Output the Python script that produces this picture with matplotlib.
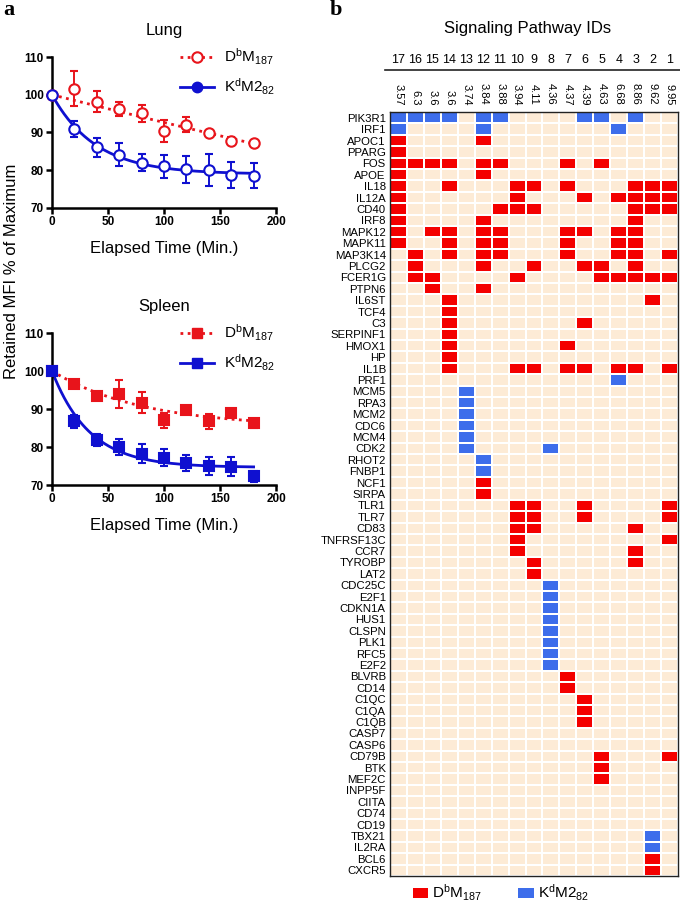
import numpy as np
import matplotlib
matplotlib.use("Agg")
import matplotlib.pyplot as plt
from matplotlib.colors import ListedColormap
from matplotlib.lines import Line2D
from matplotlib.patches import Patch
import matplotlib.transforms as mtransforms

plt.rcParams['font.family'] = ['Liberation Sans', 'DejaVu Sans']
plt.rcParams['mathtext.default'] = 'regular'

# ---- panel a data ----
time_min = [0, 20, 40, 60, 80, 100, 120, 140, 160, 180]

lung_db = [100, 101.6, 98.1, 96.2, 95.1, 90.4, 92.0, 89.8, 87.8, 87.1]
lung_db_err = [0, 4.7, 2.8, 1.8, 2.3, 3.0, 2.0, 0.5, 1.0, 0.5]
lung_kd = [100, 90.9, 86.1, 84.1, 82.0, 81.0, 80.3, 80.0, 78.7, 78.5]
lung_kd_err = [0, 2.2, 2.5, 3.0, 2.2, 3.1, 3.6, 4.2, 3.5, 3.3]

spleen_db = [100, 96.5, 93.4, 93.9, 91.7, 87.0, 89.8, 86.8, 89.0, 86.2]
spleen_db_err = [0, 0.8, 0.6, 3.7, 2.7, 2.0, 0.8, 2.0, 1.0, 1.3]
spleen_kd = [100, 86.8, 81.8, 80.0, 78.2, 77.2, 75.8, 75.0, 74.8, 72.3]
spleen_kd_err = [0, 1.7, 1.5, 2.0, 2.5, 2.3, 2.0, 2.3, 2.5, 1.5]

# ---- panel b data ----
pathway_ids = [17, 16, 15, 14, 13, 12, 11, 10, 9, 8, 7, 6, 5, 4, 3, 2, 1]
pathway_scores = ['3.57', '6.3', '3.6', '3.6', '3.74', '3.84', '3.88', '3.94', '4.11',
                  '4.36', '4.37', '4.39', '4.63', '6.68', '8.86', '9.62', '9.95']

genes = ['PIK3R1', 'IRF1', 'APOC1', 'PPARG', 'FOS', 'APOE', 'IL18', 'IL12A', 'CD40', 'IRF8',
         'MAPK12', 'MAPK11', 'MAP3K14', 'PLCG2', 'FCER1G', 'PTPN6', 'IL6ST', 'TCF4', 'C3',
         'SERPINF1', 'HMOX1', 'HP', 'IL1B', 'PRF1', 'MCM5', 'RPA3', 'MCM2', 'CDC6', 'MCM4',
         'CDK2', 'RHOT2', 'FNBP1', 'NCF1', 'SIRPA', 'TLR1', 'TLR7', 'CD83', 'TNFRSF13C',
         'CCR7', 'TYROBP', 'LAT2', 'CDC25C', 'E2F1', 'CDKN1A', 'HUS1', 'CLSPN', 'PLK1',
         'RFC5', 'E2F2', 'BLVRB', 'CD14', 'C1QC', 'C1QA', 'C1QB', 'CASP7', 'CASP6', 'CD79B',
         'BTK', 'MEF2C', 'INPP5F', 'CIITA', 'CD74', 'CD19', 'TBX21', 'IL2RA', 'BCL6', 'CXCR5']

# gene -> pathway IDs where it is hit (DbM187 = red, KdM2_82 = blue)
db_hits = {
    'APOC1': [17, 12], 'PPARG': [17], 'FOS': [17, 16, 15, 14, 12, 11, 7, 5], 'APOE': [17, 12],
    'IL18': [17, 14, 10, 9, 7, 3, 2, 1], 'IL12A': [17, 10, 6, 4, 3, 2, 1],
    'CD40': [17, 11, 10, 9, 3, 2, 1], 'IRF8': [17, 12, 3],
    'MAPK12': [17, 15, 14, 12, 11, 7, 6, 4, 3], 'MAPK11': [17, 14, 12, 11, 7, 4, 3],
    'MAP3K14': [16, 14, 12, 11, 7, 4, 3, 1], 'PLCG2': [16, 12, 9, 6, 5, 3],
    'FCER1G': [16, 15, 10, 5, 4, 3, 2, 1], 'PTPN6': [15, 12], 'IL6ST': [14, 2], 'TCF4': [14],
    'C3': [14, 6], 'SERPINF1': [14], 'HMOX1': [14, 7], 'HP': [14],
    'IL1B': [14, 10, 9, 7, 6, 4, 3, 1], 'NCF1': [12], 'SIRPA': [12],
    'TLR1': [10, 9, 6, 1], 'TLR7': [10, 9, 6, 1], 'CD83': [10, 9, 3], 'TNFRSF13C': [10, 1],
    'CCR7': [10, 3], 'TYROBP': [9, 3], 'LAT2': [9], 'BLVRB': [7], 'CD14': [7],
    'C1QC': [6], 'C1QA': [6], 'C1QB': [6], 'CD79B': [5, 1], 'BTK': [5], 'MEF2C': [5],
    'BCL6': [2], 'CXCR5': [2],
}
kd_hits = {
    'PIK3R1': [17, 16, 15, 14, 12, 11, 6, 5, 3], 'IRF1': [17, 12, 4], 'PRF1': [4],
    'MCM5': [13], 'RPA3': [13], 'MCM2': [13], 'CDC6': [13], 'MCM4': [13], 'CDK2': [13, 8],
    'RHOT2': [12], 'FNBP1': [12], 'CDC25C': [8], 'E2F1': [8], 'CDKN1A': [8], 'HUS1': [8],
    'CLSPN': [8], 'PLK1': [8], 'RFC5': [8], 'E2F2': [8], 'TBX21': [2], 'IL2RA': [2],
}

RED = '#E8141B'
BLUE = '#0F10D0'
CELL_BG = '#FDEBD6'
CELL_RED = '#F40000'
CELL_BLUE = '#3D6DEB'

db_label = r'D$^{b}$M$_{187}$'
kd_label = r'K$^{d}$M2$_{82}$'


def decay_fit(t, y):
    # one-phase decay from 100 with fitted plateau, grid search on rate
    t = np.asarray(t, float)
    y = np.asarray(y, float)
    best = None
    for k in np.linspace(0.0005, 0.3, 3000):
        g = 1 - np.exp(-k * t)
        a = np.sum(g * (y - 100)) / np.sum(g * g)
        sse = np.sum((y - 100 - a * g) ** 2)
        if best is None or sse < best[0]:
            best = (sse, k, a)
    tt = np.linspace(0, max(t), 200)
    return tt, 100 + best[2] * (1 - np.exp(-best[1] * tt))


def decay_panel(ax, title, db, db_err, kd, kd_err, marker, open_db, open_kd):
    tt, yy = decay_fit(time_min, db)
    ax.plot(tt, yy, color=RED, lw=2, ls=(0, (1, 1.6)), clip_on=False)
    tt, yy = decay_fit(time_min, kd)
    ax.plot(tt, yy, color=BLUE, lw=2, clip_on=False)
    for vals, errs, col, is_open in [(db, db_err, RED, open_db), (kd, kd_err, BLUE, open_kd)]:
        ax.errorbar(time_min, vals, yerr=errs, fmt=marker, color=col, ms=7.5 if marker == 'o' else 6.5,
                    mfc='white' if is_open else col, mec=col, mew=1.5, elinewidth=1.4,
                    capsize=3.2, capthick=1.4, clip_on=False, zorder=3)
    ax.set_xlim(0, 200)
    ax.set_ylim(70, 110)
    ax.set_xticks([0, 50, 100, 150, 200])
    ax.set_yticks([70, 80, 90, 100, 110])
    for s in ['top', 'right']:
        ax.spines[s].set_visible(False)
    for s in ['left', 'bottom']:
        ax.spines[s].set_linewidth(1.8)
    ax.tick_params(width=1.8, length=4, labelsize=8.5, pad=2)
    for lab in ax.get_xticklabels() + ax.get_yticklabels():
        lab.set_fontweight('bold')
    ax.set_xlabel('Elapsed Time (Min.)', fontsize=12, labelpad=9)
    ax.set_title(title, fontsize=12, pad=16)


fig = plt.figure(figsize=(6.8, 9.02), dpi=100)
W, H = 680.0, 902.0

ax_lung = fig.add_axes([52 / W, 1 - 208 / H, 224 / W, 151 / H])
decay_panel(ax_lung, 'Lung', lung_db, lung_db_err, lung_kd, lung_kd_err, 'o', True, True)
lung_handles = [
    Line2D([], [], color=RED, lw=2, ls=(0, (1, 1.6)), marker='o', ms=7.5, mfc='white', mec=RED, mew=1.5),
    Line2D([], [], color=BLUE, lw=2, marker='o', ms=7.5, mfc=BLUE, mec=BLUE),
]
ax_lung.legend(lung_handles, [db_label, kd_label], loc='upper left',
               bbox_to_anchor=(180 / W, 1 - 47 / H), bbox_transform=fig.transFigure,
               frameon=False, fontsize=11, handlelength=2.2, handletextpad=0.7,
               labelspacing=0.6, borderpad=0, borderaxespad=0)

ax_spleen = fig.add_axes([52 / W, 1 - 485 / H, 224 / W, 152 / H])
decay_panel(ax_spleen, 'Spleen', spleen_db, spleen_db_err, spleen_kd, spleen_kd_err, 's', False, False)
spleen_handles = [
    Line2D([], [], color=RED, lw=2, ls=(0, (1, 1.6)), marker='s', ms=7.5, mfc=RED, mec=RED),
    Line2D([], [], color=BLUE, lw=2, marker='s', ms=7.5, mfc=BLUE, mec=BLUE),
]
ax_spleen.legend(spleen_handles, [db_label, kd_label], loc='upper left',
                 bbox_to_anchor=(180 / W, 1 - 323 / H), bbox_transform=fig.transFigure,
                 frameon=False, fontsize=11, handlelength=2.2, handletextpad=0.7,
                 labelspacing=0.6, borderpad=0, borderaxespad=0)

fig.text(12 / W, 1 - 271 / H, 'Retained MFI % of Maximum', rotation=90,
         ha='center', va='center', fontsize=12)
fig.text(3 / W, 1 - 10 / H, 'a', family='Liberation Serif', fontweight='bold',
         fontsize=16, ha='left', va='center')
fig.text(330 / W, 1 - 10 / H, 'b', family='Liberation Serif', fontweight='bold',
         fontsize=16, ha='left', va='center')

# ---- heatmap ----
mat = np.zeros((len(genes), len(pathway_ids)))
for r, g in enumerate(genes):
    for pid in db_hits.get(g, []):
        mat[r, pathway_ids.index(pid)] = 1
    for pid in kd_hits.get(g, []):
        mat[r, pathway_ids.index(pid)] = 2

ax_h = fig.add_axes([390 / W, 1 - 876 / H, 288 / W, 764 / H])
ax_h.pcolormesh(mat, cmap=ListedColormap([CELL_BG, CELL_RED, CELL_BLUE]), vmin=0, vmax=2,
                edgecolors='white', linewidth=1.3)
ax_h.set_xlim(0, len(pathway_ids))
ax_h.set_ylim(len(genes), 0)
ax_h.set_yticks(np.arange(len(genes)) + 0.5)
ax_h.set_yticklabels(genes, fontsize=8.2)
ax_h.xaxis.tick_top()
ax_h.set_xticks(np.arange(len(pathway_ids)) + 0.5)
ax_h.set_xticklabels(pathway_scores, rotation=-90, fontsize=8)
ax_h.tick_params(axis='both', length=0)
ax_h.tick_params(axis='y', pad=3)
ax_h.tick_params(axis='x', pad=5)
for s in ax_h.spines.values():
    s.set_linewidth(1.0)
    s.set_color('#222222')

trans = mtransforms.blended_transform_factory(ax_h.transData, fig.transFigure)
for i, pid in enumerate(pathway_ids):
    ax_h.text(i + 0.5, 1 - 60 / H, str(pid), transform=trans, ha='center', va='center',
              fontsize=9, clip_on=False)
fig.add_artist(Line2D([385 / W, 680 / W], [1 - 70 / H, 1 - 70 / H], color='#222222', lw=1.2))
fig.text(528 / W, 1 - 28 / H, 'Signaling Pathway IDs', ha='center', va='center', fontsize=12)

heat_handles = [Patch(facecolor=CELL_RED, edgecolor='none'), Patch(facecolor=CELL_BLUE, edgecolor='none')]
fig.legend(heat_handles, [db_label, kd_label], loc='center', ncol=2,
           bbox_to_anchor=(501 / W, 1 - 893 / H), frameon=False, fontsize=11,
           handlelength=1.0, handleheight=0.7, handletextpad=0.25, columnspacing=2.4,
           borderpad=0)

fig.savefig('out.png', dpi=100)
